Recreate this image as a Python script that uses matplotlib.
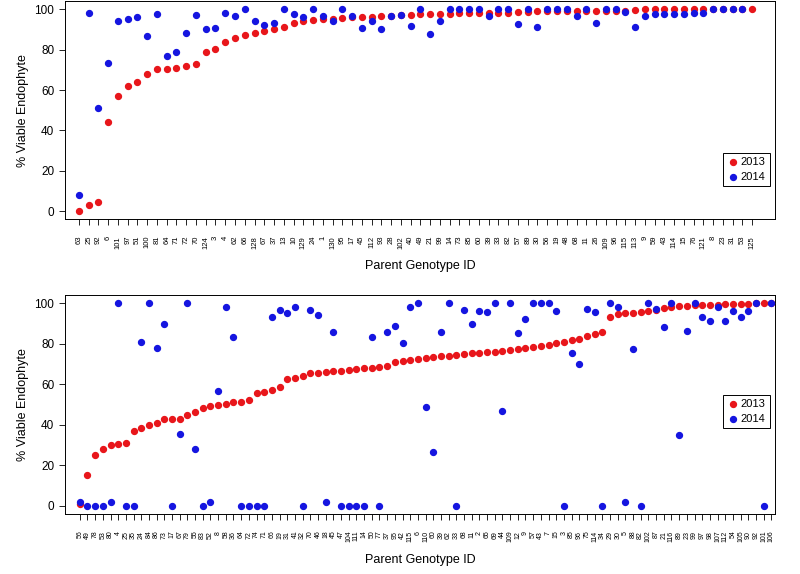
import matplotlib
matplotlib.use('Agg')
import matplotlib.pyplot as plt

plt.rcParams['font.family'] = ['Liberation Sans', 'DejaVu Sans']

RED = '#e8161b'
BLUE = '#1515e0'

# top panel
top_ids = ['63', '25', '92', '6', '101', '97', '51', '100', '81', '64',
           '71', '72', '70', '124', '3', '4', '62', '66', '128', '67',
           '37', '13', '10', '129', '24', '1', '130', '95', '17', '45',
           '112', '93', '28', '102', '40', '49', '21', '99', '14', '73',
           '85', '60', '39', '33', '82', '57', '89', '30', '56', '19',
           '48', '68', '11', '26', '109', '96', '115', '113', '9', '59',
           '43', '114', '15', '76', '121', '8', '23', '31', '53', '125']
top_2013 = [0, 3, 4.5, 44, 57, 62, 64, 68, 70.5, 70.5,
            71, 72, 73, 79, 80.5, 84, 86, 87, 88, 89,
            90, 91, 93, 94, 94.5, 95, 95, 95.5, 96, 96,
            96, 96.5, 96.5, 97, 97, 97.5, 97.5, 97.5, 97.5, 98,
            98, 98, 98, 98, 98, 98.5, 98.5, 99, 99, 99,
            99, 99, 99, 99, 99, 99, 99, 99.5, 100, 100,
            100, 100, 100, 100, 100, 100, 100, 100, 100, 100]
top_2014 = [8, 98, 51, 73.5, 94, 95, 96, 86.5, 97.5, 77,
            79, 88, 97, 90, 90.5, 98, 96.5, 100, 94, 92,
            93, 100, 97.5, 96, 100, 96.5, 94, 100, 96.5, 90.5,
            94, 90, 96.5, 97, 91.5, 100, 87.5, 94, 100, 100,
            100, 100, 96.5, 100, 100, 92.5, 100, 91, 100, 100,
            100, 96.5, 100, 93, 100, 100, 98.5, 91, 96.5, 97.5,
            97.5, 97.5, 97.5, 98, 98, 100, 100, 100, 100, None]

# bottom panel
bot_ids = ['56', '49', '78', '53', '80', '4', '25', '35', '24', '84',
           '86', '73', '17', '67', '79', '55', '83', '52', '8', '58',
           '36', '64', '72', '74', '71', '66', '19', '31', '41', '32',
           '70', '46', '18', '45', '47', '104', '111', '14', '50', '77',
           '37', '95', '42', '115', '6', '110', '60', '39', '62', '33',
           '68', '11', '2', '65', '69', '44', '109', '12', '9', '57',
           '43', '7', '15', '3', '85', '96', '75', '114', '34', '29',
           '30', '5', '88', '82', '102', '87', '21', '116', '89', '23',
           '99', '97', '98', '107', '112', '54', '105', '90', '92', '101',
           '106']
bot_2013 = [1, 15, 25, 28, 30, 30.5, 31, 37, 38.5, 40,
            41, 43, 43, 43, 45, 46.5, 48.5, 49.5, 50, 50.5,
            51, 51, 52, 55.5, 56, 57, 58.5, 62.5, 63, 64,
            65.5, 65.5, 66, 66.5, 66.5, 67, 67.5, 68, 68, 68.5,
            69, 71, 71.5, 72, 72.5, 73, 73.5, 74, 74, 74.5,
            75, 75.5, 75.5, 76, 76, 76.5, 77, 77.5, 78, 78.5,
            79, 79.5, 80.5, 81, 82, 82.5, 84, 85, 86, 93,
            94.5, 95, 95, 95.5, 96, 96.5, 97.5, 98, 98.5, 98.5,
            99, 99, 99, 99, 99.5, 99.5, 99.5, 99.5, 100, 100,
            100]
bot_2014 = [2, 0, 0, 0, 2, 100, 0, 0, 81, 100,
            78, 89.5, 0, 35.5, 100, 28, 0, 2, 56.5, 98,
            83.5, 0, 0, 0, 0, 93, 96.5, 95, 98, 0,
            96.5, 94, 2, 86, 0, 0, 0, 0, 83.5, 0,
            86, 88.5, 80.5, 98, 100, 49, 26.5, 86, 100, 0,
            96.5, 89.5, 96, 95.5, 100, 47, 100, 85.5, 92, 100,
            100, 100, 96, 0, 75.5, 70, 97, 95.5, 0, 100,
            98, 2, 77.5, 0, 100, 97, 88, 100, 35, 86.5,
            100, 93, 91, 98, 91, 96, 93, 96, 100, 0,
            100]


def panel(ax, ids, v13, v14, tick_size, legend_y):
    xs = list(range(len(ids)))
    ax.scatter(xs, v13, s=18, color=RED, zorder=3, label='2013')
    pts = [(x, v) for x, v in zip(xs, v14) if v is not None]
    ax.scatter([p[0] for p in pts], [p[1] for p in pts], s=18, color=BLUE,
               zorder=3, label='2014')
    ax.set_ylim(-4, 104)
    ax.set_yticks([0, 20, 40, 60, 80, 100])
    ax.set_xticks(xs)
    ax.set_xticklabels(ids, rotation=90, fontsize=tick_size)
    ax.tick_params(axis='y', labelsize=8.5, length=4, width=0.6)
    ax.tick_params(axis='x', length=4, width=0.6, pad=8)
    ax.set_ylabel('% Viable Endophyte', fontsize=9)
    ax.set_xlabel('Parent Genotype ID', fontsize=9, labelpad=8)
    for s in ax.spines.values():
        s.set_linewidth(0.7)
    leg = ax.legend(loc='upper right', bbox_to_anchor=(1.0, legend_y),
                    fontsize=8, handletextpad=0.2, borderpad=0.4,
                    handlelength=1.0, fancybox=False, framealpha=1,
                    labelspacing=0.4)
    leg.get_frame().set_edgecolor('black')
    leg.get_frame().set_linewidth(0.7)


fig = plt.figure(figsize=(8, 5.74), dpi=100)

ax1 = fig.add_axes([0.081, 0.618, 0.888, 0.380])
ax1.set_xlim(-1.44, 71.36)
panel(ax1, top_ids, top_2013, top_2014, 5.5, 0.33)

ax2 = fig.add_axes([0.081, 0.1045, 0.888, 0.3815])
ax2.set_xlim(-1.95, 90.5)
panel(ax2, bot_ids, bot_2013, bot_2014, 5, 0.57)

fig.savefig('out.png', dpi=100)
